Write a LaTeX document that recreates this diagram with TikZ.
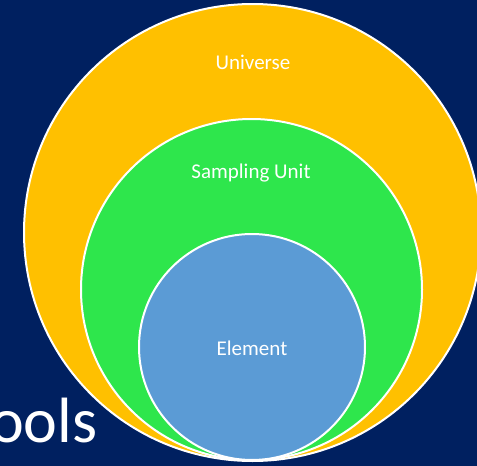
\documentclass[tikz,border=0pt]{standalone}
\usepackage{fontspec}
\setmainfont{Carlito}
\definecolor{slidebg}{HTML}{002060}
\definecolor{universefill}{HTML}{FFC000}
\definecolor{unitfill}{HTML}{2EE64C}
\definecolor{elementfill}{HTML}{5B9BD5}
\tikzset{
  setcircle/.style={circle, draw=white, line width=2pt, inner sep=0pt},
  setlabel/.style={text=white, font=\fontsize{21}{21}\selectfont}
}

\begin{document}
\begin{tikzpicture}[x=1pt,y=-1pt]
    \useasboundingbox (0,0) rectangle (477,466);
    \clip (0,0) rectangle (477,466);
    \fill[slidebg] (0,0) rectangle (477,466);
    % title text partly hidden behind the circles
    \node[text=white, font=\fontsize{64}{64}\selectfont, anchor=base west, inner sep=0pt] (title) at (-10,442) {ools};

    \node[setcircle, fill=universefill, minimum size=457pt] (universe) at (252.5,232.5) {};
    \node[setcircle, fill=unitfill, minimum size=341pt] (unit) at (251.5,289.5) {};
    \node[setcircle, fill=elementfill, minimum size=226pt] (element) at (252,347) {};

    \node[setlabel] (universelabel) at (253,62) {Universe};
    \node[setlabel] (unitlabel) at (251,173) {Sampling Unit};
    \node[setlabel] (elementlabel) at (252,348) {Element};
\end{tikzpicture}
\end{document}
